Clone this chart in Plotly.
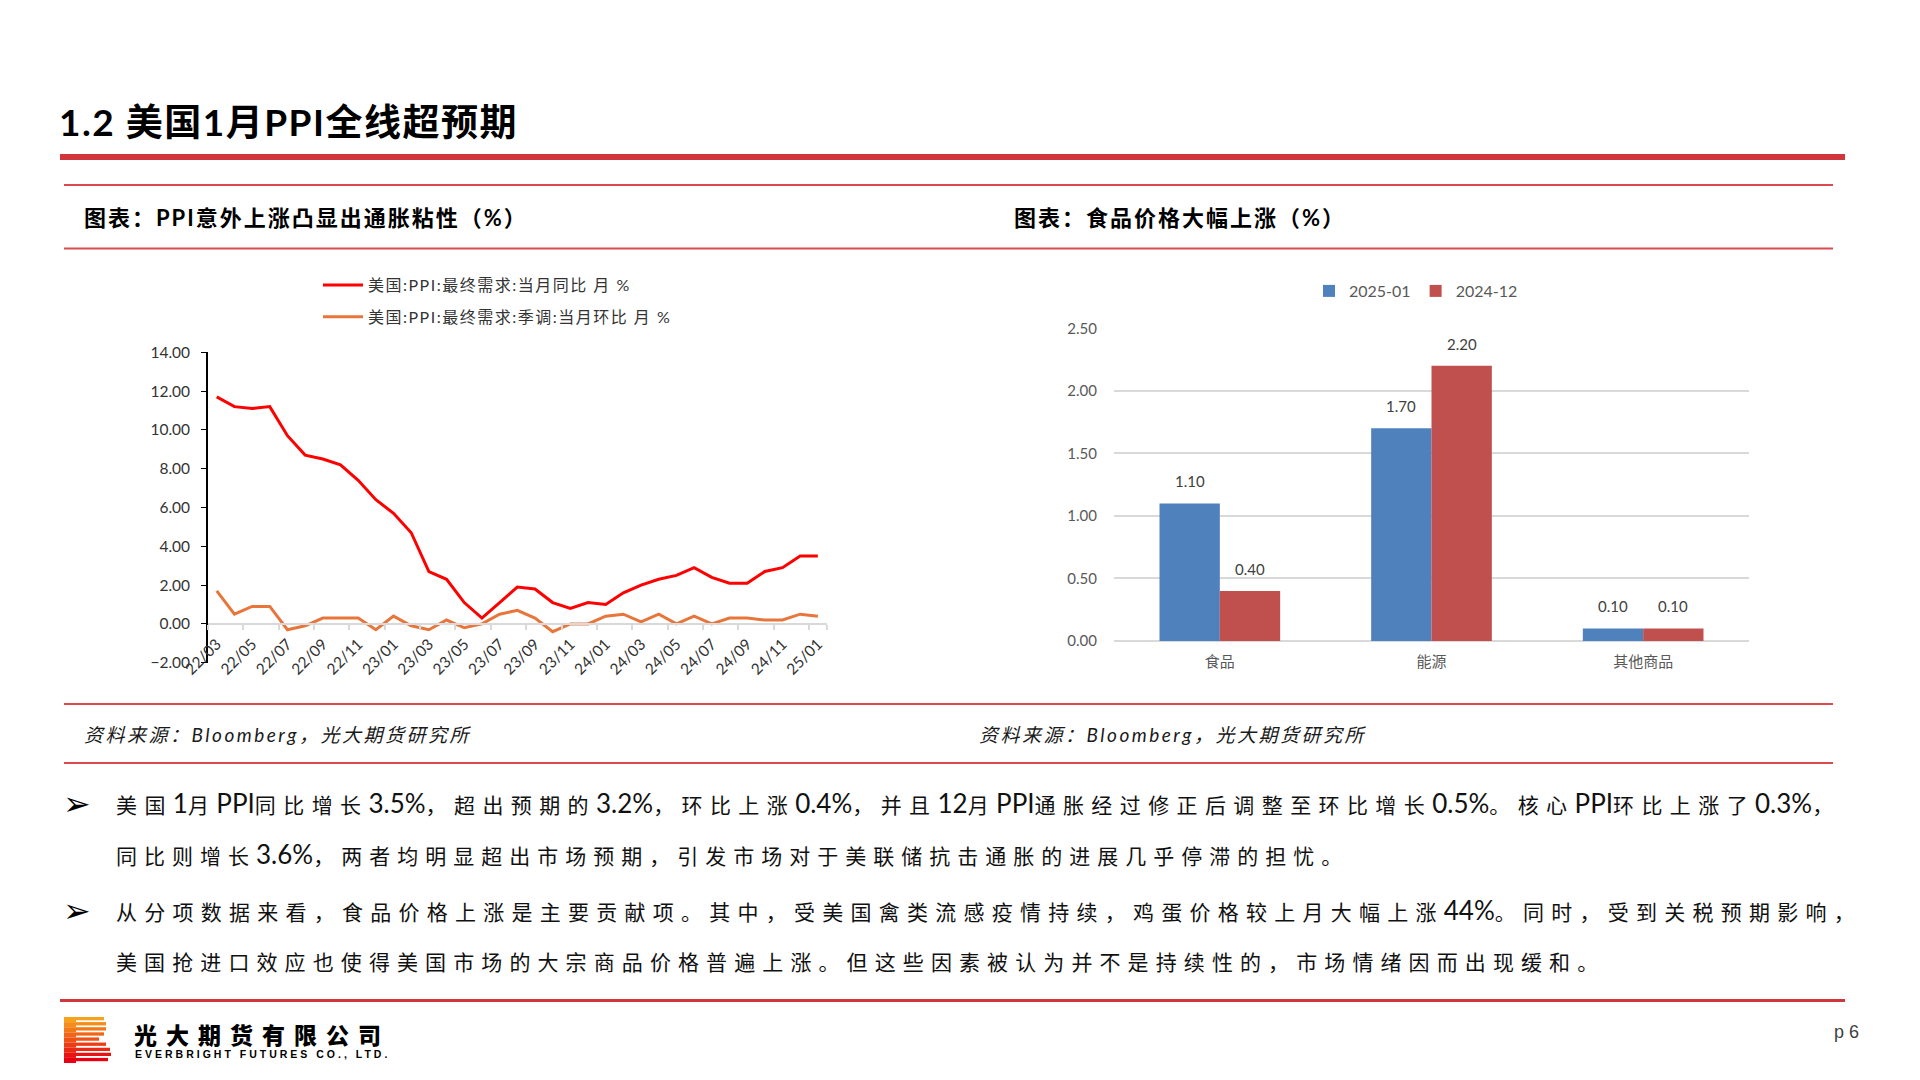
import re
import plotly.graph_objects as go

# ---------------- data ----------------
months = ["22/03", "22/04", "22/05", "22/06", "22/07", "22/08", "22/09", "22/10", "22/11", "22/12",
          "23/01", "23/02", "23/03", "23/04", "23/05", "23/06", "23/07", "23/08", "23/09", "23/10",
          "23/11", "23/12", "24/01", "24/02", "24/03", "24/04", "24/05", "24/06", "24/07", "24/08",
          "24/09", "24/10", "24/11", "24/12", "25/01"]
ppi_yoy = [11.7, 11.2, 11.1, 11.2, 9.7, 8.7, 8.5, 8.2, 7.4, 6.4,
           5.7, 4.7, 2.7, 2.3, 1.1, 0.3, 1.1, 1.9, 1.8, 1.1,
           0.8, 1.1, 1.0, 1.6, 2.0, 2.3, 2.5, 2.9, 2.4, 2.1,
           2.1, 2.7, 2.9, 3.5, 3.5]
ppi_mom = [1.7, 0.5, 0.9, 0.9, -0.3, -0.1, 0.3, 0.3, 0.3, -0.3,
           0.4, -0.1, -0.3, 0.2, -0.2, 0.0, 0.5, 0.7, 0.3, -0.4,
           0.0, 0.0, 0.4, 0.5, 0.1, 0.5, 0.0, 0.4, 0.0, 0.3,
           0.3, 0.2, 0.2, 0.5, 0.4]
name_yoy = "美国:PPI:最终需求:当月同比 月 %"
name_mom = "美国:PPI:最终需求:季调:当月环比 月 %"

bar_cats = ["食品", "能源", "其他商品"]
val_2501 = [1.10, 1.70, 0.10]
val_2412 = [0.40, 2.20, 0.10]

title_text = "1.2 美国1月PPI全线超预期"
sub_left = "图表：PPI意外上涨凸显出通胀粘性（%）"
sub_right = "图表：食品价格大幅上涨（%）"
source_text = "资料来源：Bloomberg，光大期货研究所"
body_lines = [
    "美国1月PPI同比增长3.5%，超出预期的3.2%，环比上涨0.4%，并且12月PPI通胀经过修正后调整至环比增长0.5%。核心PPI环比上涨了0.3%，",
    "同比则增长3.6%，两者均明显超出市场预期，引发市场对于美联储抗击通胀的进展几乎停滞的担忧。",
    "从分项数据来看，食品价格上涨是主要贡献项。其中，受美国禽类流感疫情持续，鸡蛋价格较上月大幅上涨44%。同时，受到关税预期影响，",
    "美国抢进口效应也使得美国市场的大宗商品价格普遍上涨。但这些因素被认为并不是持续性的，市场情绪因而出现缓和。",
]

# ---------------- helpers ----------------
W, H = 1920, 1080
def px(x):
    return x / W
def py(y):
    return 1 - y / H

CJK_RE = re.compile(r'([\u3000-\u303f\u4e00-\u9fff\uff00-\uffef]+)')
def cjk_spaced(text, size, ls):
    out = []
    for p in CJK_RE.split(text):
        if not p:
            continue
        if CJK_RE.fullmatch(p):
            out.append(f'<span style="font-size:{size}px;letter-spacing:{ls}px">{p}</span>')
        else:
            out.append(p)
    return "".join(out)

def spaced(text, ls):
    return f'<span style="letter-spacing:{ls}px">{text}</span>'

FONT = "Lato, 'Noto Sans CJK SC', sans-serif"
RED = "#D0363B"
THIN = "#DA4A4F"
BLUE = "#4F81BD"
BRED = "#C0504D"

fig = go.Figure()

# ---------------- left chart ----------------
fig.add_trace(go.Scatter(x=months, y=ppi_yoy, name=spaced(name_yoy, 1.5), mode="lines",
                         line=dict(color="#FF0000", width=3), legend="legend",
                         legendgroup="a", xaxis="x", yaxis="y"))
fig.add_trace(go.Scatter(x=months, y=ppi_mom, name=spaced(name_mom, 1.5), mode="lines",
                         line=dict(color="#E8763A", width=3), legend="legend",
                         legendgroup="b", xaxis="x", yaxis="y"))

# ---------------- right chart ----------------
fig.add_trace(go.Bar(x=bar_cats, y=val_2501, name="2025-01", marker=dict(color=BLUE),
                     legend="legend2", xaxis="x2", yaxis="y2"))
fig.add_trace(go.Bar(x=bar_cats, y=val_2412, name="2024-12", marker=dict(color=BRED),
                     legend="legend2", xaxis="x2", yaxis="y2"))

# ---------------- shapes (slide decoration) ----------------
shapes = []
shapes.append(dict(type="rect", xref="paper", yref="paper", x0=px(60), x1=px(1845),
                   y0=py(160), y1=py(154), fillcolor=RED, line=dict(width=0)))
for yy in [185, 248.6, 704, 763]:
    shapes.append(dict(type="line", xref="paper", yref="paper", x0=px(64), x1=px(1833),
                       y0=py(yy), y1=py(yy), line=dict(color=THIN, width=2)))
shapes.append(dict(type="rect", xref="paper", yref="paper", x0=px(60), x1=px(1845),
                   y0=py(1002), y1=py(999), fillcolor=RED, line=dict(width=0)))

# logo (stripe "B")
right_edges = [104, 106, 106, 104, 99, 106, 110, 111, 108]
c0 = (247, 162, 27)
c1 = (230, 0, 18)
top, period, n = 1017.0, 46.0 / 9, 9
for i, re_ in enumerate(right_edges):
    t = i / (n - 1)
    col = "rgb(%d,%d,%d)" % tuple(int(c0[k] + (c1[k] - c0[k]) * t) for k in range(3))
    y0 = top + i * period
    shapes.append(dict(type="rect", xref="paper", yref="paper", x0=px(64), x1=px(76),
                       y0=py(y0 + period), y1=py(y0), fillcolor=col, line=dict(width=0)))
    shapes.append(dict(type="rect", xref="paper", yref="paper", x0=px(76), x1=px(re_),
                       y0=py(y0 + 3.3), y1=py(y0), fillcolor=col, line=dict(width=0)))

# ---------------- annotations ----------------
ann = []
def add_text(text, x, y, size, color="#000000", weight="normal", style="normal",
             xanchor="left", family=FONT):
    ann.append(dict(text=text, x=px(x), y=py(y), xref="paper", yref="paper",
                    xanchor=xanchor, yanchor="middle", showarrow=False,
                    font=dict(size=size, color=color, family=family, weight=weight, style=style)))

# bar value labels (placed at each bar's value on the chart's own axes)
for vals, shift in [(val_2501, -30.3), (val_2412, 30.3)]:
    for c, v in zip(bar_cats, vals):
        ann.append(dict(text=f"{v:.2f}", x=c, y=v, xref="x2", yref="y2",
                        xshift=shift, yshift=22, xanchor="center", yanchor="middle",
                        showarrow=False, font=dict(size=15, color="#404040", family=FONT)))

add_text(spaced(title_text, 1.5), 57, 121, 37, weight="bold")
add_text(spaced(sub_left, 2), 82, 217, 22, weight="bold")
add_text(spaced(sub_right, 2), 1012, 217, 22, weight="bold")
add_text(spaced(source_text, 2.5), 82, 734, 19, color="#1a1a1a", style="italic")
add_text(spaced(source_text, 2.5), 977, 734, 19, color="#1a1a1a", style="italic")

body_y = [803, 853.5, 910, 961]
body_ls = [7.4, 7.0, 7.25, 7.1]
for i, line in enumerate(body_lines):
    add_text(cjk_spaced(line, 21, body_ls[i]), 114, body_y[i], 26, color="#111111")
for yy in [body_y[0], body_y[2]]:
    add_text("➢", 77, yy, 33, xanchor="center", family="DejaVu Sans")

add_text(spaced("光大期货有限公司", 9), 132, 1034, 23,
         weight=900, family="'Noto Sans CJK SC', sans-serif")
add_text(spaced("EVERBRIGHT FUTURES CO., LTD.", 3.0), 133, 1054, 10.5,
         weight="bold", family="'Liberation Sans', Arial, sans-serif")
add_text("p 6", 1832, 1032, 18, color="#404040", family="'Liberation Sans', Arial, sans-serif")

# ---------------- layout ----------------
fig.update_layout(
    template="none",
    width=W, height=H, margin=dict(l=0, r=0, t=0, b=0, pad=0, autoexpand=False),
    paper_bgcolor="white", plot_bgcolor="white",
    font=dict(family=FONT, color="#404040"),
    barmode="group", bargap=0.43, bargroupgap=0,
    shapes=shapes, annotations=ann,
    xaxis=dict(domain=[px(207.9), px(826.7)], type="category", range=[-0.5, 34.5],
               anchor="free", position=py(624), automargin=False,
               showline=True, linecolor="#d9d9d9", linewidth=2,
               ticks="outside", ticklen=5, tickcolor="#d9d9d9", tickwidth=1.5,
               tickson="boundaries", tickmode="array", tickvals=months[::2],
               tickangle=-45, tickfont=dict(size=15.5, color="#333333"),
               ticklabelstandoff=4, showgrid=False, zeroline=False),
    yaxis=dict(domain=[py(662.7), py(352.3)], range=[-2, 14], dtick=2, tickformat=".2f",
               anchor="x", showline=True, linecolor="#000000", linewidth=1.5, automargin=False,
               ticks="outside", ticklen=5, tickcolor="#000000",
               tickfont=dict(size=15.5, color="#333333"), ticklabelstandoff=8,
               showgrid=False, zeroline=False),
    xaxis2=dict(domain=[px(1114), px(1749)], anchor="y2", showline=False, ticks="",
                automargin=False,
                tickfont=dict(size=15, color="#595959"), ticklabelstandoff=10, showgrid=False),
    yaxis2=dict(domain=[py(641), py(328.3)], range=[0, 2.5], dtick=0.5, tickformat=".2f",
                anchor="x2", showline=False, ticks="", showgrid=True, gridcolor="#d9d9d9",
                gridwidth=1.5, zeroline=True, zerolinecolor="#d9d9d9", zerolinewidth=1.5,
                automargin=False,
                tickfont=dict(size=15, color="#595959"), ticklabelstandoff=16),
    legend=dict(x=px(318), y=py(268), xanchor="left", yanchor="top", orientation="v",
                font=dict(size=16, color="#333333", family=FONT), tracegroupgap=8,
                itemwidth=40, bgcolor="rgba(0,0,0,0)"),
    legend2=dict(x=px(1416), y=py(291), xanchor="center", yanchor="middle", orientation="h",
                 font=dict(size=16, color="#595959", family=FONT),
                 bgcolor="rgba(0,0,0,0)", itemwidth=30),
)

fig.write_html("out.html")
